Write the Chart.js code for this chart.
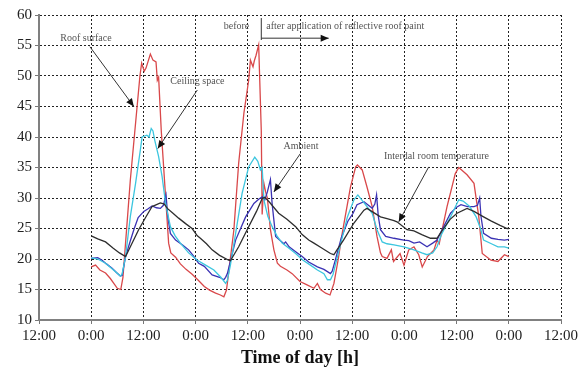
<!DOCTYPE html>
<html>
<head>
<meta charset="utf-8">
<script src="https://cdn.jsdelivr.net/npm/chart.js@4/dist/chart.umd.min.js"></script>
<style>
  html, body { margin: 0; padding: 0; background: #ffffff; }
  #wrap { width: 584px; height: 371px; position: relative; }
</style>
</head>
<body>
<div id="wrap"><canvas id="c" width="584" height="371"></canvas></div>
<script>
// ---- Data (hours counted from the first 0:00 on the axis) ----
const xTickLabels = ['0:00', '12:00'];
const seriesNames = ['Roof surface', 'Ceiling space', 'Ambient', 'Interdal room temperature'];

const roofHours = [0,1,2,3.3,4.4,5.2,6,6.8,7.3,9, 11.2,11.6,12.2,12.6,13.6,14.2,14.9,15.2,15.5,16.1,
  17.1,17.8,18.3,19.4,20.5,21.8,23.2,24.5,26,27.2, 28.6,29.7,30.5,31.1,32.8,33.9,35.1,36.2,36.6,37.2,
  37.5,37.9,38.5,39.1,39.3,39.7,40.1,40.5,41.2,42, 42.8,43.5,45,46.2,48,49.5,51.2,52,52.7,53.9,
  54.9,55.8,56.8,57.7,59.6,60.8,61.2,62.3,63.4,64.6, 65.7,66.5,66.9,68,69,69.5,71,71.9,73,74.2,
  75.3,76.1,77.3,78.8,79.5,80,81.8,83.7,84.5,86.4, 88,89.1,89.9,91.9,93.5,95,96];
const roofTemps = [18.7,19.0,18.2,17.7,16.8,16.0,15.2,15.0,17,33, 50,52.1,50.8,51.3,53.6,52.6,52.3,49.3,49.8,41.1,
  30.2,22.6,21,20.3,19.2,18.3,17.5,16.6,15.5,14.9, 14.4,14.1,13.8,14.9,24.8,35.7,43.9,49.3,52.6,51.5,
  52.5,53.4,55.1,41,27.3,32.4,31,30,24.8,21.5, 19.3,18.8,18.2,17.6,16.3,15.8,15.2,16,15,14.4,
  14.1,16,20,24.2,31.8,35.1,35.4,34.6,31.8,28.6, 23.7,21,20.4,20.1,21.5,19.6,20.9,19,21.5,22,
  20.7,18.7,20.4,21.5,23.1,22.5,28.6,34,35,33.8, 32.4,26.9,20.9,19.8,19.6,20.7,20.4];

const ceilingHours = [0,1.5,3.3,5.6,6.7,7.1,7.9,9,10.2,11.3, 11.7,12.8,13.3,13.8,14.2,14.6,15.5,16.3,17.1,18.2,
  19.3,20.5,22.4,24.4,26.3,28.2,29.8,30.9,31.3,32, 33.2,34.7,36.2,37.6,38.3,38.9,39.3,39.7,40.6,41.6,
  42.7,43.9,45.4,47,48.7,50.4,52,53.5,54.3,55, 55.6,57,58.9,60.4,61.3,62.5,64.6,65.7,66.9,68,
  69.6,71.9,74.2,76,77.2,78.5,79.5,80.5,82.6,84.5, 85.5,87,88.5,89.5,90.2,92,93.5,95,96];
const ceilingTemps = [20.2,20,19.3,17.9,17.2,17.5,20.4,27,32.4,37.9, 40,40.3,40,41.4,41,39.5,36.8,33.5,29.1,25.3,
  23.8,22.6,21,19.8,19,18.2,17,16,16.5,19, 24.2,30.8,35.1,36.7,36,34.6,35,29.7,27,25.3,
  23.8,22.6,21.8,20.9,19.8,19,18.2,17.6,16.6,16.6, 17.5,21.5,26.9,29.7,30.5,29.4,27.5,24.8,22.8,22.5,
  22.3,22,21.5,21,20.7,21,22,24,26.9,29.7, 29.5,28.6,26.9,25,23.1,22.5,22,22,21.8];

const ambientHours = [0,1.5,2.5,3.5,4.8,5.8,6.7,7.1,7.9,9, 9.8,10.8,12.1,13,14,15,15.9,16.6,17.2,17.6,
  18.2,19.4,21,22.4,23.5,24.7,26,27.8,29.5,30.5, 30.9,31.3,33.2,35.5,37.4,38.5,39.3,39.9,40.5,41.2,
  41.6,42.4,43.5,44.3,44.7,45.5,47,48.5,50,52, 53.5,55,55.4,56,57.5,59,60.2,61.1,62.7,64.6,
  65.2,65.6,66,66.5,67.7,69.6,71.9,73,74.2,75.5, 77.2,78.5,79.5,80.8,82.6,84,85,86.5,88,88.8,
  89.3,89.6,90.2,92,93.5,95,96];
const ambientTemps = [20.1,20.2,19.8,19.2,18.5,17.8,17.2,17.3,20.4,23, 24.8,26.8,27.8,28.2,28.7,28.4,28.3,28.8,30.5,27,
  24.2,23.1,22.3,21.5,20.5,19.3,18.8,17.4,17,16.6, 17,17.6,23.1,26.9,29.1,29.8,30.2,29.7,31,33,
  29,23.7,23,22.5,22.8,22,21.2,20.4,19.5,18.7, 18.3,17.6,18,19.5,23.5,26.2,27.5,28.9,29.4,28.3,
  29,30.5,27,24.8,23.7,23.4,23.1,23,22.6,22.8, 22,22.6,23.1,25,27.5,28.5,28.9,28.6,28.6,28.8,
  30,27,24.2,23.4,23.2,23.1,23.2];

const internalHours = [0,1.5,3.3,5,6.5,7.9,9,10.9,12.5,14, 15.9,16.8,17.5,18.8,20.1,21.7,23.2,24.4,25.1,26.5,
  27.8,29.5,31.6,32,33.9,36.2,38,39.3,39.9,41, 43.1,45,47,48.5,50,51.2,53,55,55.8,56.5,
  58,60.4,62.7,63.4,64.5,66.5,68,69.6,70.3,72.6, 74.2,76,78,79.5,80.5,82.5,84.1,86.4,88,90.2,
  92,94,95.6,96];
const internalTemps = [23.8,23.3,22.8,21.8,21,20.4,22,24.8,26.8,28.6, 29.2,29,28.3,27.5,26.7,25.8,25,23.8,23.4,22.5,
  21.5,20.6,19.8,19.7,22,25.3,27.8,29.9,30.1,29.3, 27.5,26.5,25.3,24,23.1,22.6,21.8,20.9,20.7,21.5,
  23.1,25.9,28,28.3,27.8,26.9,26.6,26.3,26.1,24.8, 24.6,24,23.4,23.4,24.5,26.5,27.5,28.3,27.8,26.9,
  26.2,25.5,25,25];

// ---- Annotations, anchored in data units ----
const labelNotes = [
  { text: 'Roof surface', at: [-7.1, 56.1], from: [-0.3, 54.8], to: [9.8, 45.0] },
  { text: 'Ceiling space', at: [18.2, 49.1], from: [24.4, 47.7], to: [15.3, 38.1] },
  { text: 'Ambient', at: [44.2, 38.5], from: [48.1, 37.3], to: [42.0, 31.0] },
  { text: 'Interdal room temperature', at: [67.3, 36.8], from: [77.6, 35.1], to: [70.7, 26.1] }
];
const phaseMark = { hour: 39.1, top: 59.5, bottom: 55.9, arrowY: 56.2, arrowEnd: 54.6,
  before: 'before', after: 'after application of reflective roof paint', textY: 58.1 };

function pts(hs, vs) { return hs.map((h, i) => ({ x: h, y: vs[i] })); }

const SERIF = "'Liberation Serif', 'Times New Roman', serif";

const annotationPlugin = {
  id: 'notes',
  afterDatasetsDraw(chart) {
    const ctx = chart.ctx, xs = chart.scales.x, ys = chart.scales.y;
    const px = h => xs.getPixelForValue(h), py = v => ys.getPixelForValue(v);
    ctx.save();
    ctx.font = '10px ' + SERIF;
    ctx.fillStyle = '#555';
    ctx.textBaseline = 'middle';
    function arrow(x1, y1, x2, y2) {
      ctx.strokeStyle = '#333'; ctx.fillStyle = '#111'; ctx.lineWidth = 1;
      ctx.beginPath(); ctx.moveTo(x1, y1); ctx.lineTo(x2, y2); ctx.stroke();
      const a = Math.atan2(y2 - y1, x2 - x1), L = 8, W = 3.5;
      ctx.beginPath();
      ctx.moveTo(x2, y2);
      ctx.lineTo(x2 - L * Math.cos(a) + W * Math.sin(a), y2 - L * Math.sin(a) - W * Math.cos(a));
      ctx.lineTo(x2 - L * Math.cos(a) - W * Math.sin(a), y2 - L * Math.sin(a) + W * Math.cos(a));
      ctx.closePath(); ctx.fill();
    }
    labelNotes.forEach(n => {
      ctx.fillStyle = '#555'; ctx.textAlign = 'left';
      ctx.fillText(n.text, px(n.at[0]), py(n.at[1]));
      arrow(px(n.from[0]), py(n.from[1]), px(n.to[0]), py(n.to[1]));
    });
    const m = phaseMark;
    ctx.fillStyle = '#555';
    ctx.textAlign = 'right';
    ctx.fillText(m.before, px(m.hour) - 12, py(m.textY));
    ctx.textAlign = 'left';
    ctx.fillText(m.after, px(m.hour) + 5, py(m.textY));
    ctx.strokeStyle = '#333'; ctx.lineWidth = 1;
    ctx.beginPath(); ctx.moveTo(px(m.hour), py(m.top)); ctx.lineTo(px(m.hour), py(m.bottom)); ctx.stroke();
    arrow(px(m.hour), py(m.arrowY), px(m.arrowEnd), py(m.arrowY));
    ctx.restore();
  }
};

const common = { pointRadius: 0, borderWidth: 1.3, tension: 0, fill: false };

new Chart(document.getElementById('c'), {
  type: 'line',
  data: {
    datasets: [
      Object.assign({ label: seriesNames[3], data: pts(internalHours, internalTemps), borderColor: '#2e2e2e' }, common),
      Object.assign({ label: seriesNames[1], data: pts(ceilingHours, ceilingTemps), borderColor: '#3cc6df' }, common),
      Object.assign({ label: seriesNames[2], data: pts(ambientHours, ambientTemps), borderColor: '#3b32b4' }, common),
      Object.assign({ label: seriesNames[0], data: pts(roofHours, roofTemps), borderColor: '#d9484a' }, common)
    ]
  },
  options: {
    responsive: false,
    animation: false,
    layout: { padding: { top: 15, right: 23, left: 0, bottom: 0 } },
    plugins: { legend: { display: false }, tooltip: { enabled: false } },
    scales: {
      x: {
        type: 'linear', min: -12, max: 108,
        ticks: {
          stepSize: 12, autoSkip: false, maxRotation: 0, padding: 3,
          color: '#222', font: { family: SERIF, size: 15 },
          callback: v => (((v % 24) + 24) % 24 === 0 ? xTickLabels[0] : xTickLabels[1])
        },
        grid: { color: '#222', lineWidth: 1, tickLength: 4, tickColor: '#777', tickBorderDash: [] },
        border: { display: true, color: '#808080', width: 2, dash: [2, 2] },
        title: { display: true, text: 'Time of day [h]', color: '#111',
                 font: { family: SERIF, size: 18, weight: 'bold' }, padding: { top: 0, bottom: 2 } },
        afterFit: s => { s.height = 51; }
      },
      y: {
        min: 10, max: 60,
        ticks: { stepSize: 5, padding: 3, color: '#222', font: { family: SERIF, size: 15 } },
        grid: { color: '#222', lineWidth: 1, tickLength: 4, tickColor: '#777', tickBorderDash: [] },
        border: { display: true, color: '#808080', width: 2, dash: [2, 2] },
        afterFit: s => { s.width = 39; }
      }
    }
  },
  plugins: [annotationPlugin]
});
</script>
</body>
</html>
